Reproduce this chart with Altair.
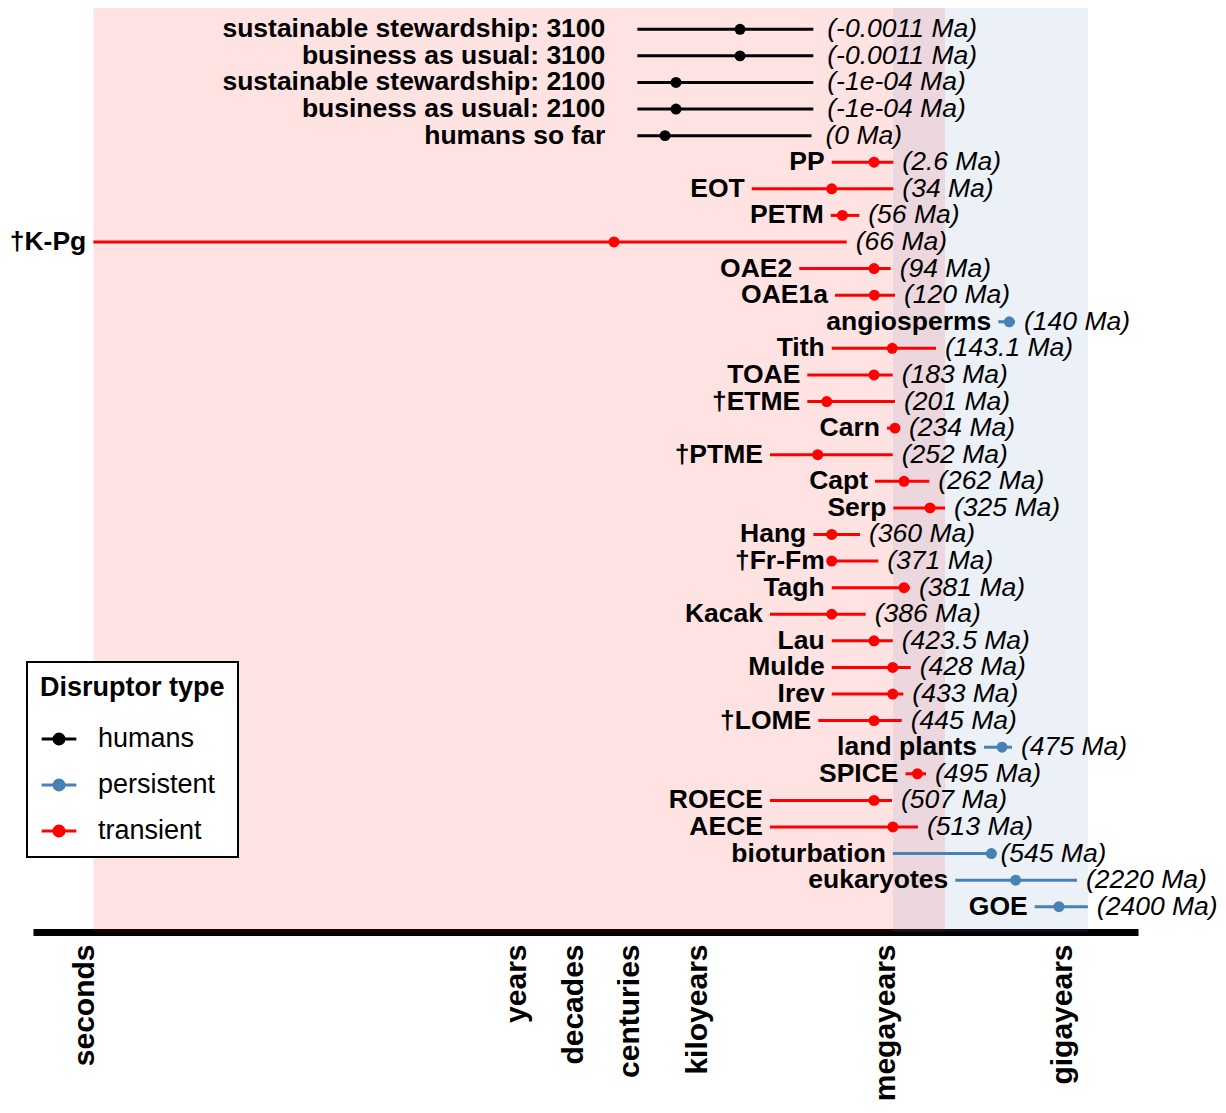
import altair as alt
import pandas as pd

# ---- data (x values are log10 of duration in years) ----
labels = [
    "sustainable stewardship: 3100", "business as usual: 3100",
    "sustainable stewardship: 2100", "business as usual: 2100",
    "humans so far", "PP", "EOT", "PETM", "†K-Pg", "OAE2", "OAE1a",
    "angiosperms", "Tith", "TOAE", "†ETME", "Carn", "†PTME", "Capt", "Serp",
    "Hang", "†Fr-Fm", "Tagh", "Kacak", "Lau", "Mulde", "Irev", "†LOME",
    "land plants", "SPICE", "ROECE", "AECE", "bioturbation", "eukaryotes", "GOE",
]
types = (["humans"] * 5 + ["transient"] * 6 + ["persistent"] + ["transient"] * 15
         + ["persistent"] + ["transient"] * 3 + ["persistent"] * 3)
ages = ["-0.0011", "-0.0011", "-1e-04", "-1e-04", "0", "2.6", "34", "56", "66",
        "94", "120", "140", "143.1", "183", "201", "234", "252", "262", "325",
        "360", "371", "381", "386", "423.5", "428", "433", "445", "475", "495",
        "507", "513", "545", "2220", "2400"]
start = [2.016, 2.016, 2.016, 2.016, 2.016, 5.168, 3.871, 5.152, -6.805, 4.642,
         5.221, 7.869, 5.168, 4.772, 4.772, 6.064, 4.167, 5.870, 6.167, 4.869,
         5.168, 5.168, 4.167, 5.168, 5.168, 5.168, 4.950, 7.637, 6.364, 4.167,
         4.167, 6.160, 7.172, 8.459]
mid = [3.681, 3.681, 2.643, 2.643, 2.465, 5.854, 5.168, 5.340, 1.638, 5.854,
       5.859, 8.047, 6.150, 5.854, 5.087, 6.194, 4.941, 6.340, 6.762, 5.168,
       5.168, 6.340, 5.168, 5.854, 6.157, 6.157, 5.854, 7.929, 6.557, 5.854,
       6.160, 7.757, 8.150, 8.852]
end = [4.869, 4.869, 4.869, 4.869, 4.840, 6.167, 6.167, 5.615, 5.411, 6.124,
       6.194, 8.140, 6.859, 6.157, 6.194, 6.275, 6.157, 6.750, 7.005, 5.627,
       5.923, 6.437, 5.719, 6.157, 6.449, 6.329, 6.303, 8.091, 6.697, 6.146,
       6.567, 7.757, 9.145, 9.321]

pink_span = [-6.805, 7.005]
blue_span = [6.162, 9.321]

tick_values = [-6.956, 0.049, 0.973, 1.881, 2.984, 6.032, 8.902]
tick_names = ["seconds", "years", "decades", "centuries", "kiloyears",
              "megayears", "gigayears"]

type_domain = ["humans", "persistent", "transient"]
type_colors = ["#000000", "#4682b4", "#ff0000"]

FONT = "Liberation Sans"

df = pd.DataFrame({
    "row": list(range(len(labels))),
    "label": labels,
    "type": types,
    "age": ["(" + a + " Ma)" for a in ages],
    "start": start,
    "mid": mid,
    "end": end,
})

xscale = alt.Scale(domain=[-7.783, 10.134], nice=False, zero=False)
yscale = alt.Scale(domain=[-0.8, 33.95], reverse=True, nice=False, zero=False)

label_expr = "[" + ",".join("'%s'" % n for n in tick_names) + "][indexof([" + \
    ",".join(str(v) for v in tick_values) + "], datum.value)]"

legend_path = ("M-1,0L1,0M-0.29,0A0.29,0.29,0,1,1,0.29,0"
               "A0.29,0.29,0,1,1,-0.29,0Z")


def mk_legend():
    return alt.Legend(title="Disruptor type", symbolType=legend_path,
                      orient="none", legendX=-6, legendY=654,
                      titleLimit=400, labelLimit=400)


cscale_stroke = alt.Scale(domain=type_domain, range=type_colors)
cscale_fill = alt.Scale(domain=type_domain, range=type_colors)

x_axis = alt.Axis(values=tick_values, labelExpr=label_expr, title=None,
                  ticks=False, grid=False, domain=True, domainColor="black",
                  domainWidth=7, labelAngle=270, labelAlign="right",
                  labelBaseline="middle", labelFont=FONT, labelFontWeight="bold",
                  labelFontSize=30, labelColor="black", labelPadding=12,
                  labelOverlap=False, labelFlush=False, labelBound=False,
                  labelLimit=400)

pink = alt.Chart(pd.DataFrame({"a": [pink_span[0]], "b": [pink_span[1]]})).mark_rect(
    color="#ff0000", opacity=0.115).encode(
    x=alt.X("a:Q", scale=xscale, axis=x_axis), x2="b:Q",
    y=alt.value(0), y2=alt.value(924))

blue = alt.Chart(pd.DataFrame({"a": [blue_span[0]], "b": [blue_span[1]]})).mark_rect(
    color="#4682b4", opacity=0.11).encode(
    x=alt.X("a:Q", scale=xscale), x2="b:Q",
    y=alt.value(0), y2=alt.value(924))

base = alt.Chart(df)

rules = base.mark_rule(strokeWidth=3).encode(
    x=alt.X("start:Q", scale=xscale), x2="end:Q",
    y=alt.Y("row:Q", scale=yscale, axis=None),
    stroke=alt.Stroke("type:N", scale=cscale_stroke, legend=mk_legend()),
)

points = base.mark_point(filled=True, size=120, opacity=1).encode(
    x=alt.X("mid:Q", scale=xscale),
    y=alt.Y("row:Q", scale=yscale, axis=None),
    fill=alt.Fill("type:N", scale=cscale_fill, legend=mk_legend()),
)

LBL = 26.5

left_h = base.transform_filter("datum.type == 'humans'").mark_text(
    align="right", baseline="middle", dx=-32, font=FONT, fontWeight="bold",
    fontSize=LBL, color="black").encode(
    x=alt.X("start:Q", scale=xscale), y=alt.Y("row:Q", scale=yscale), text="label:N")

left_o = base.transform_filter("datum.type != 'humans'").mark_text(
    align="right", baseline="middle", dx=-7, font=FONT, fontWeight="bold",
    fontSize=LBL, color="black").encode(
    x=alt.X("start:Q", scale=xscale), y=alt.Y("row:Q", scale=yscale), text="label:N")

right_h = base.transform_filter("datum.type == 'humans'").mark_text(
    align="left", baseline="middle", dx=14, font=FONT, fontStyle="italic",
    fontSize=LBL, color="black").encode(
    x=alt.X("end:Q", scale=xscale), y=alt.Y("row:Q", scale=yscale), text="age:N")

right_o = base.transform_filter("datum.type != 'humans'").mark_text(
    align="left", baseline="middle", dx=9, font=FONT, fontStyle="italic",
    fontSize=LBL, color="black").encode(
    x=alt.X("end:Q", scale=xscale), y=alt.Y("row:Q", scale=yscale), text="age:N")

chart = alt.layer(pink, blue, rules, points, left_h, left_o, right_h, right_o).properties(
    width=1105, height=924,
    autosize=alt.AutoSizeParams(type="none"),
    padding={"left": 25, "top": 0, "right": 80, "bottom": 168},
    background="white",
).configure_view(stroke=None).configure_legend(
    titleFont=FONT, titleFontSize=27, titleFontWeight="bold", titleColor="black",
    labelFont=FONT, labelFontSize=27, labelColor="black",
    symbolSize=1200, symbolStrokeWidth=3, rowPadding=14, titlePadding=18,
    padding=13, strokeColor="black", strokeWidth=2, fillColor="white",
    labelOffset=20, symbolOpacity=1,
)

chart.save("out.html", embed_options={"renderer": "svg", "actions": False})
